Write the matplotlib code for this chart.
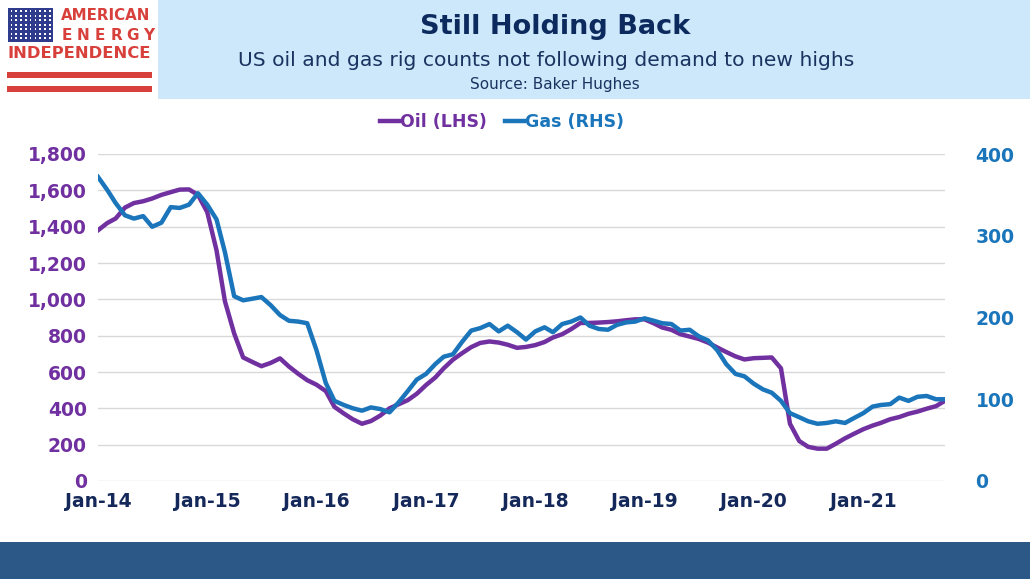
import numpy as np
import pandas as pd
import matplotlib.pyplot as plt
from matplotlib.patches import Rectangle
import matplotlib.dates as mdates

# Datos mensuales (Baker Hughes)
fechas = pd.date_range('2014-01-01', '2021-10-01', freq='MS')

petroleo = [1380, 1420, 1445, 1505, 1530, 1540, 1555, 1575, 1590, 1604, 1605, 1575,
            1480, 1270, 990, 812, 680, 655, 632, 650, 675, 630, 590, 555,
            530, 495, 408, 372, 340, 315, 330, 360, 400, 422, 445, 480,
            528, 570, 620, 668, 703, 737, 760, 768, 762, 750, 733, 738,
            748, 765, 790, 808, 836, 870, 870, 872, 875, 879, 885, 890,
            890, 868, 845, 832, 808, 795, 782, 762, 735, 710, 686, 669,
            676, 678, 680, 620, 315, 220, 188, 178, 178, 205, 235, 260,
            285, 305, 320, 340, 352, 370, 382, 398, 412, 442]

gas = [372, 356, 340, 325, 321, 324, 311, 316, 335, 334, 338, 352,
       338, 320, 280, 226, 221, 223, 225, 215, 203, 196, 195, 193,
       160, 120, 98, 93, 89, 86, 90, 88, 84, 96, 110, 124,
       131, 143, 152, 155, 170, 184, 187, 192, 183, 190, 182, 173,
       183, 188, 182, 192, 195, 200, 190, 186, 185, 191, 194, 195,
       199, 196, 193, 192, 184, 185, 177, 172, 160, 143, 131, 128,
       119, 112, 108, 98, 83, 78, 73, 70, 71, 73, 71, 77,
       83, 91, 93, 94, 102, 98, 103, 104, 100, 100]

ticks_izq = [0, 200, 400, 600, 800, 1000, 1200, 1400, 1600, 1800]
ticks_der = [0, 100, 200, 300, 400]
anios = pd.date_range('2014-01-01', '2021-01-01', freq='YS')

morado = '#7030a0'
azul = '#1b75bb'
marino = '#14285a'

W, H = 1030, 579
fig = plt.figure(figsize=(W / 100, H / 100), dpi=100)

def px(x, y):
    return x / W, 1 - y / H

# Banner del titulo y franja inferior
fig.patches.append(Rectangle(px(158, 99), (W - 158) / W, 99 / H, transform=fig.transFigure,
                             facecolor='#cde8fb', edgecolor='none'))
fig.patches.append(Rectangle(px(0, 579), 1, 37 / H, transform=fig.transFigure,
                             facecolor='#2b5886', edgecolor='none'))

fig.text(*px(555, 27), 'Still Holding Back', ha='center', va='center',
         fontsize=19.5, fontweight='bold', color='#0d2a5e')
fig.text(*px(546, 60), 'US oil and gas rig counts not following demand to new highs',
         ha='center', va='center', fontsize=14.6, color='#1a3360')
fig.text(*px(555, 84), 'Source: Baker Hughes', ha='center', va='center',
         fontsize=11, color='#1a3360')

# Logo
rojo = '#d8403c'
fig.patches.append(Rectangle(px(8, 42), 45 / W, 34 / H, transform=fig.transFigure,
                             facecolor='#2f3b8c', edgecolor='none'))
for i in range(7):
    for j in range(9):
        fig.patches.append(Rectangle(px(10.5 + j * 4.8, 12 + i * 4.5), 1.6 / W, 1.6 / H,
                                     transform=fig.transFigure, facecolor='white',
                                     edgecolor='none'))
fig.text(*px(106, 15), 'AMERICAN', ha='center', va='center', fontsize=10.8,
         fontweight='bold', color=rojo)
for k, letra in enumerate('ENERGY'):
    fig.text(*px(67 + k * 16.4, 35), letra, ha='center', va='center', fontsize=11,
             fontweight='bold', color=rojo)
fig.text(*px(79, 54), 'INDEPENDENCE', ha='center', va='center', fontsize=11.8,
         fontweight='bold', color=rojo)
for yy in (78, 92):
    fig.patches.append(Rectangle(px(7, yy), 145 / W, 6 / H, transform=fig.transFigure,
                                 facecolor=rojo, edgecolor='none'))

# Grafico principal
ax = fig.add_axes([98 / W, 1 - 481 / H, (945 - 98) / W, (481 - 154) / H])
ax2 = ax.twinx()

ax.plot(fechas, petroleo, color=morado, linewidth=3.2, label='Oil (LHS)', zorder=3)
ax2.plot(fechas, gas, color=azul, linewidth=3.2, label='Gas (RHS)', zorder=3)

ax.set_ylim(0, 1800)
ax2.set_ylim(0, 400)
ax.set_xlim(fechas[0], fechas[-1])
ax.set_yticks(ticks_izq)
ax.set_yticklabels([f'{v:,}' for v in ticks_izq])
ax2.set_yticks(ticks_der)
ax.set_xticks(anios)
ax.xaxis.set_major_formatter(mdates.DateFormatter('Jan-%y'))

ax.grid(axis='y', color='#d9d9d9', linewidth=1)
ax.set_axisbelow(True)
for a in (ax, ax2):
    for s in a.spines.values():
        s.set_visible(False)
    a.tick_params(length=0)

ax.tick_params(axis='y', labelcolor=morado, labelsize=13.5, pad=8)
ax.tick_params(axis='x', labelcolor=marino, labelsize=13.5, pad=8)
ax2.tick_params(axis='y', labelcolor=azul, labelsize=13.5, pad=22)
for lbl in ax.get_yticklabels() + ax.get_xticklabels() + ax2.get_yticklabels():
    lbl.set_fontweight('bold')

h1, l1 = ax.get_legend_handles_labels()
h2, l2 = ax2.get_legend_handles_labels()
leg = fig.legend(h1 + h2, l1 + l2, loc='center', bbox_to_anchor=px(502, 122), ncol=2,
                 frameon=False, handlelength=1.1, handletextpad=0.1, columnspacing=1.0,
                 prop={'size': 12.5, 'weight': 'bold'})
for txt, c in zip(leg.get_texts(), (morado, azul)):
    txt.set_color(c)

fig.savefig('out.png', dpi=100)
